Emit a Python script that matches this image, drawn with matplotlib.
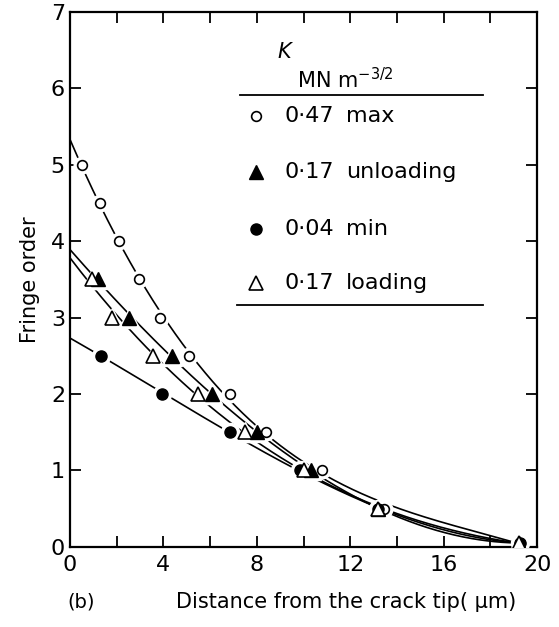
import numpy as np
import matplotlib
matplotlib.use("Agg")
import matplotlib.pyplot as plt
from matplotlib.lines import Line2D

plt.rcParams['font.family'] = ['DejaVu Sans']

# Fringe order against distance from crack tip (µm), four loading states
x_max = [0.5, 1.3, 2.1, 2.95, 3.85, 5.1, 6.85, 8.4, 10.8, 13.45, 19.25]
y_max = [5.0, 4.5, 4.0, 3.5, 3.0, 2.5, 2.0, 1.5, 1.0, 0.5, 0.05]

x_unl = [1.2, 2.55, 4.35, 6.1, 8.0, 10.3, 13.2, 19.2]
y_unl = [3.5, 3.0, 2.5, 2.0, 1.5, 1.0, 0.5, 0.05]

x_min = [1.35, 3.95, 6.85, 9.85, 13.2, 19.25]
y_min = [2.5, 2.0, 1.5, 1.0, 0.5, 0.05]

x_lod = [0.95, 1.8, 3.55, 5.5, 7.5, 10.0, 13.2, 19.2]
y_lod = [3.5, 3.0, 2.5, 2.0, 1.5, 1.0, 0.5, 0.05]

k_values = ["0·47", "0·17", "0·04", "0·17"]
k_states = ["max", "unloading", "min", "loading"]

fig = plt.figure(figsize=(5.59, 6.27), dpi=100)
ax = fig.add_axes([0.125, 0.128, 0.836, 0.853])

series = [
    (x_max, y_max, dict(marker='o', mfc='white', mec='black', ms=7, mew=1.2)),
    (x_unl, y_unl, dict(marker='^', mfc='black', mec='black', ms=10, mew=1.0)),
    (x_min, y_min, dict(marker='o', mfc='black', mec='black', ms=8, mew=1.0)),
    (x_lod, y_lod, dict(marker='^', mfc='white', mec='black', ms=10, mew=1.2)),
]

# smooth curves through each set, extended back to the crack tip
for xs, ys, st in series:
    xs = np.asarray(xs); ys = np.asarray(ys)
    coef = np.polyfit(xs, ys, 3)
    xx = np.linspace(0, xs.max(), 300)
    ax.plot(xx, np.polyval(coef, xx), color='black', lw=1.2, zorder=2)

# white halos leave small gaps in the curves around the symbols
for xs, ys, st in series:
    ax.plot(xs, ys, ls='none', marker=st['marker'], ms=st['ms'] + 5,
            mfc='white', mec='white', zorder=3)
for xs, ys, st in series:
    ax.plot(xs, ys, ls='none', zorder=4, **st)

ax.set_xlim(0, 20)
ax.set_ylim(0, 7)
ax.set_xticks(np.arange(0, 21, 4))
ax.set_xticks(np.arange(0, 21, 2), minor=True)
ax.set_yticks(np.arange(0, 8, 1))
ax.tick_params(axis='both', which='both', direction='in', top=True, right=True,
               width=1.3, labelsize=16)
ax.tick_params(axis='both', which='major', length=8)
ax.tick_params(axis='x', which='minor', length=8)
ax.tick_params(axis='x', which='major', pad=6)
for sp in ax.spines.values():
    sp.set_linewidth(1.6)

ax.set_ylabel("Fringe order", fontsize=15, labelpad=8)
fig.text(0.145, 0.04, "(b)", fontsize=14, ha='center', va='center')
fig.text(0.62, 0.04, "Distance from the crack tip( µm)", fontsize=15,
         ha='center', va='center')

# key table in the upper right
def fx(px):
    return px / 559.0

def fy(py):
    return 1 - py / 627.0

fig.text(fx(284), fy(52), "K", fontsize=15, style='italic', ha='center', va='center')
fig.text(fx(297), fy(80), r"MN m$^{-3/2}$", fontsize=15, ha='left', va='center')
fig.add_artist(Line2D([fx(240), fx(483)], [fy(95), fy(95)], color='black', lw=1.3))
fig.add_artist(Line2D([fx(237), fx(483)], [fy(305), fy(305)], color='black', lw=1.3))

row_y = [116, 172, 229, 283]
for (xs, ys, st), kv, ks, ry in zip(series, k_values, k_states, row_y):
    fig.add_artist(Line2D([fx(256)], [fy(ry)], ls='none', **st))
    fig.text(fx(285), fy(ry), kv, fontsize=16, ha='left', va='center')
    fig.text(fx(346), fy(ry), ks, fontsize=16, ha='left', va='center')

fig.savefig("out.png", dpi=100)
